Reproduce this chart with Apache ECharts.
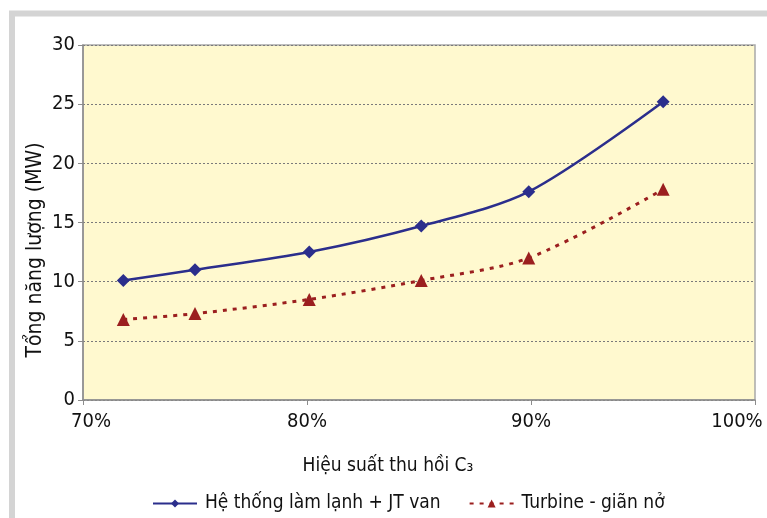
<!DOCTYPE html>
<html>
<head>
<meta charset="utf-8">
<script src="https://cdn.jsdelivr.net/npm/echarts@6/dist/echarts.min.js"></script>
<style>
html,body{margin:0;padding:0;background:#fff;}
#chart{width:767px;height:518px;}
</style>
</head>
<body>
<div id="chart"></div>
<script>
// Data
const recovery = [71.8, 75.0, 80.1, 85.1, 89.9, 95.9];           // Hiệu suất thu hồi C3 (%)
const jtValues = [10.1, 11.0, 12.5, 14.7, 17.6, 25.2];            // Hệ thống làm lạnh + JT van
const turbineValues = [6.8, 7.3, 8.5, 10.1, 12.0, 17.8];          // Turbine - giãn nở
const seriesNames = ['Hệ thống làm lạnh + JT van', 'Turbine - giãn nở'];
const xTitle = 'Hiệu suất thu hồi C\u2083';
const yTitle = 'Tổng năng lượng (MW)';

const FONT = "'Liberation Sans Narrow','DejaVu Sans Condensed','Roboto Condensed',sans-serif";

const chart = echarts.init(document.getElementById('chart'), null, {renderer: 'canvas'});

const pair = (xs, ys) => xs.map((x, i) => [x, ys[i]]);

chart.setOption({
  animation: false,
  backgroundColor: '#ffffff',
  textStyle: {fontFamily: FONT, color: '#111'},
  grid: {
    left: 83, right: 12, top: 45, bottom: 118,
    show: true,
    backgroundColor: '#FFF9CF',
    borderColor: '#a9a9a9',
    borderWidth: 1.5,
    containLabel: false
  },
  graphic: [
    {
      type: 'rect', silent: true, z: -1,
      shape: {x: 12, y: 13.5, width: 820, height: 600},
      style: {fill: 'none', stroke: '#d4d4d4', lineWidth: 6}
    },
    {
      type: 'text', silent: true,
      x: 36, y: 250, rotation: Math.PI / 2,
      style: {
        text: yTitle, fontFamily: FONT, fontSize: 21, fill: '#111',
        align: 'center', verticalAlign: 'middle'
      }
    },
    {
      type: 'text', silent: true,
      x: 388, y: 466,
      style: {
        text: xTitle, fontFamily: FONT, fontSize: 19, fill: '#111',
        align: 'center', verticalAlign: 'middle'
      }
    }
  ],
  legend: {
    data: seriesNames,
    top: 494,
    left: 152,
    padding: 0,
    itemWidth: 44,
    itemHeight: 10,
    itemGap: 28,
    textStyle: {fontFamily: FONT, fontSize: 19, color: '#111', padding: [0, 0, 0, 3]}
  },
  xAxis: {
    type: 'value',
    min: 70, max: 100, interval: 10,
    axisLine: {show: true, onZero: false, lineStyle: {color: '#8c8c8c', width: 1.5}},
    axisTick: {show: true, length: 5, lineStyle: {color: '#8c8c8c'}},
    splitLine: {show: false},
    axisLabel: {
      fontFamily: FONT, fontSize: 20, color: '#111', margin: 12,
      formatter: function (v) {
        if (v === 70) return '{l|' + v + '%}';
        if (v === 100) return '{r|' + v + '%}';
        return v + '%';
      },
      rich: {
        l: {fontFamily: FONT, fontSize: 20, color: '#111', padding: [0, 0, 0, 16]},
        r: {fontFamily: FONT, fontSize: 20, color: '#111', padding: [0, 36, 0, 0]}
      }
    }
  },
  yAxis: {
    type: 'value',
    min: 0, max: 30, interval: 5,
    axisLine: {show: true, lineStyle: {color: '#8c8c8c', width: 1.5}},
    axisTick: {show: true, length: 5, lineStyle: {color: '#8c8c8c'}},
    axisLabel: {fontFamily: FONT, fontSize: 20, color: '#111', margin: 8},
    splitLine: {show: true, lineStyle: {color: '#7a7a7a', type: [2, 2], width: 1}}
  },
  series: [
    {
      name: seriesNames[0],
      type: 'line',
      data: pair(recovery, jtValues),
      smooth: 0.3,
      symbol: 'diamond',
      symbolSize: 13,
      itemStyle: {color: '#2B2E8C'},
      lineStyle: {color: '#2B2E8C', width: 2.5}
    },
    {
      name: seriesNames[1],
      type: 'line',
      data: pair(recovery, turbineValues),
      smooth: 0.3,
      symbol: 'triangle',
      symbolSize: 13,
      itemStyle: {color: '#9B1F1F'},
      lineStyle: {color: '#9B1F1F', width: 3, type: [4, 6]}
    }
  ]
});
</script>
</body>
</html>
